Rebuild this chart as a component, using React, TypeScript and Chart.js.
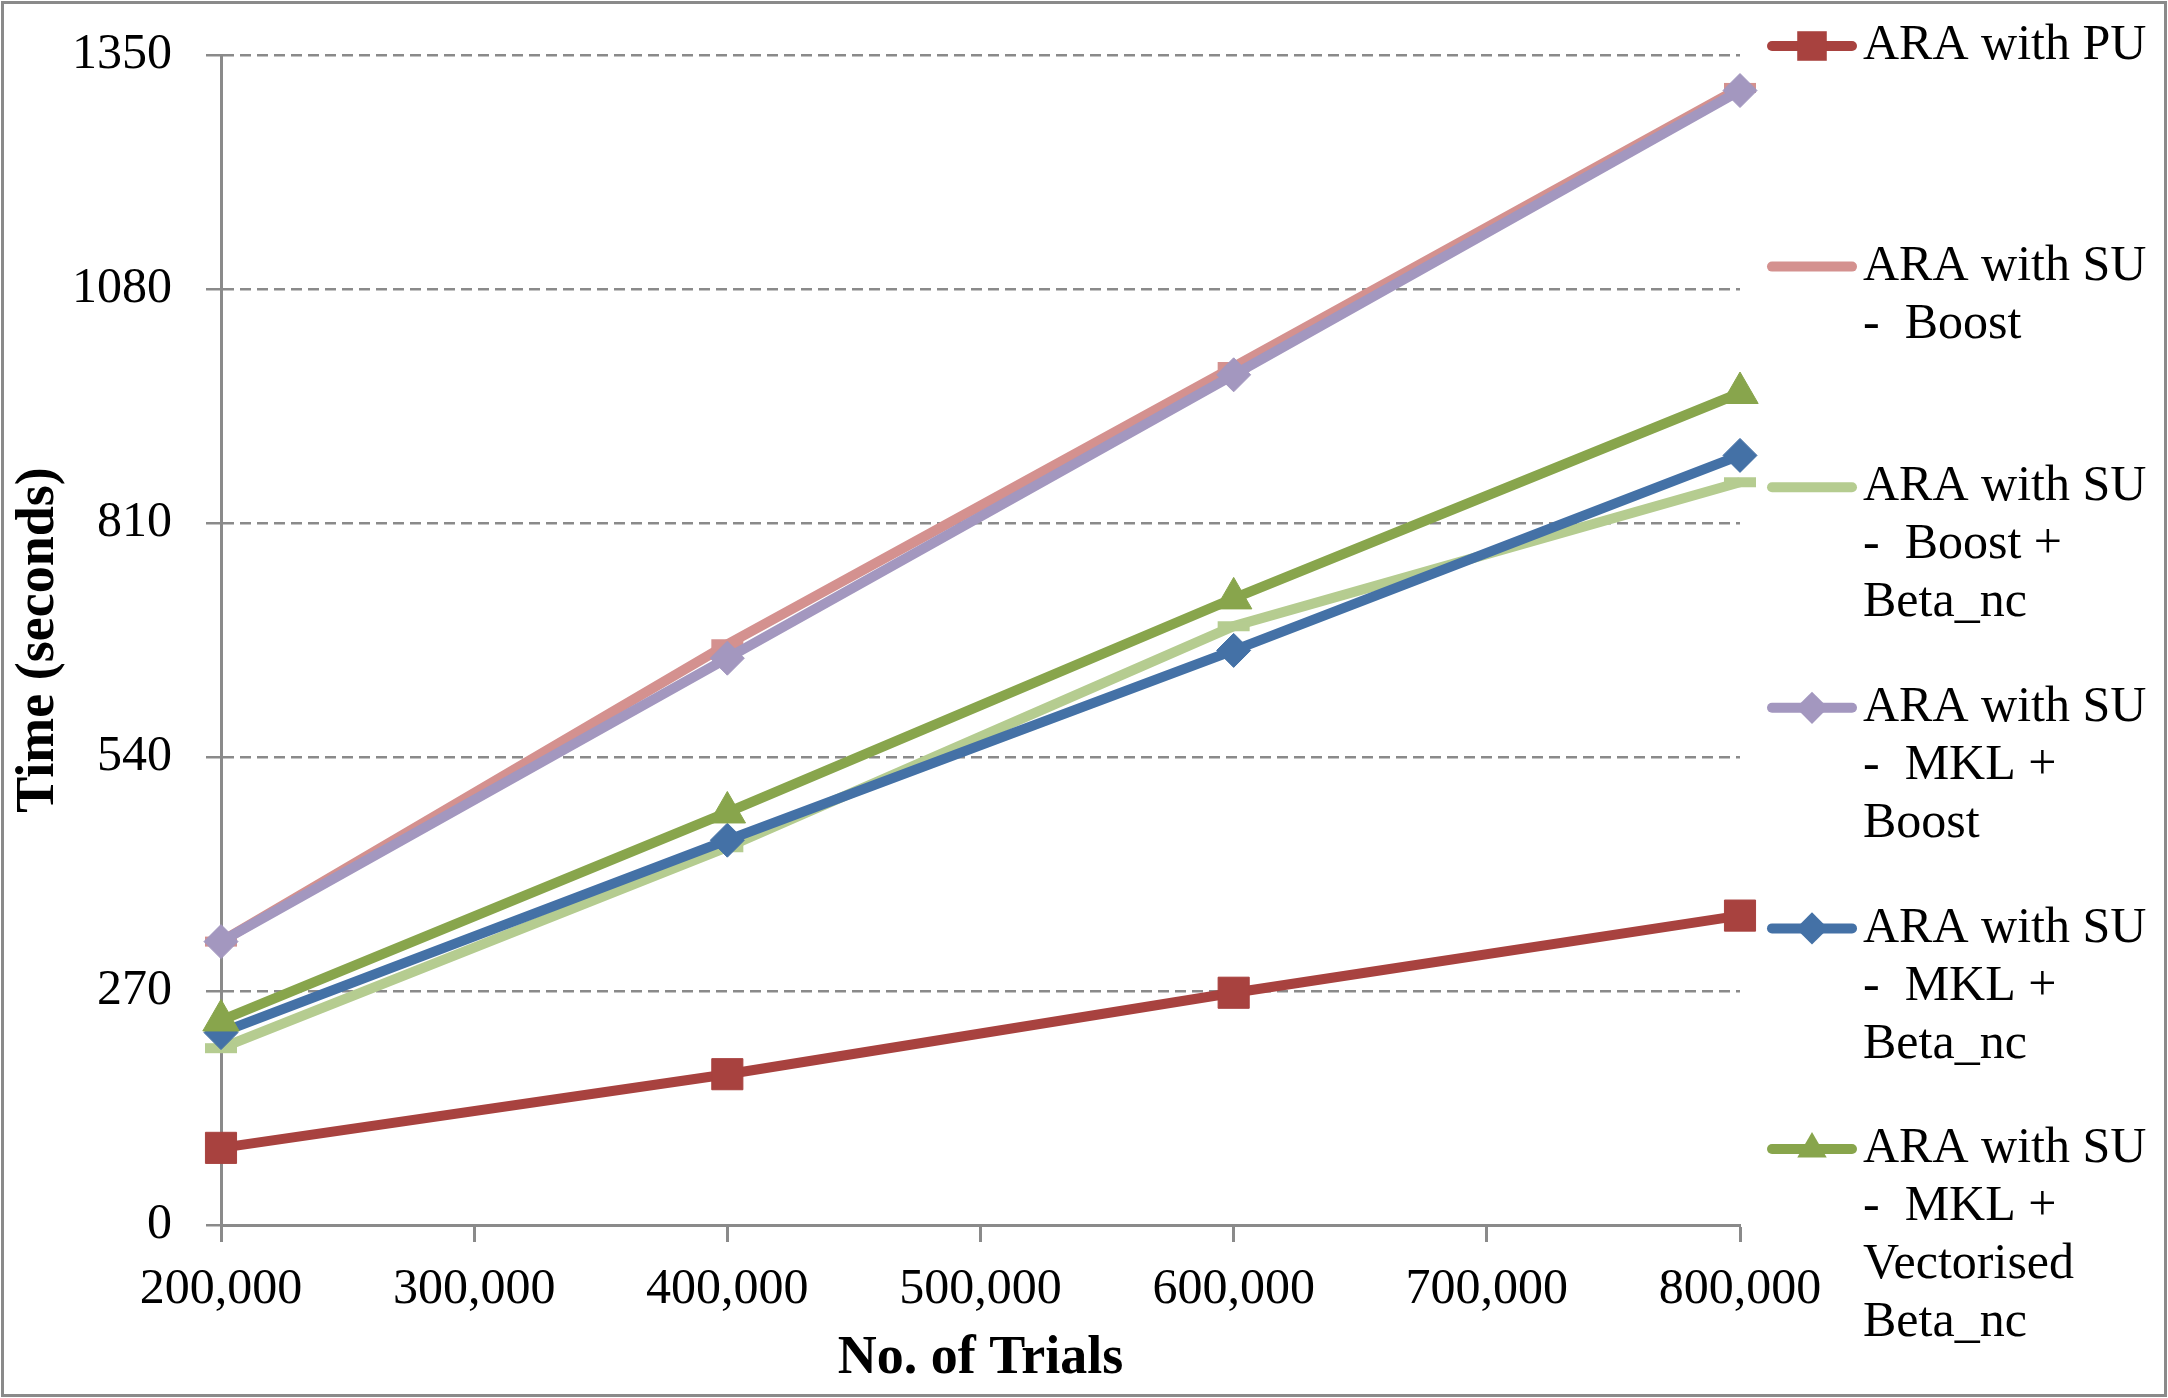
import { useEffect, useRef } from 'react'
import { Chart, registerables } from 'chart.js'

Chart.register(...registerables)

// data
const trials = [200000, 400000, 600000, 800000]
const seriesNames = [
  ['ARA with PU'],
  ['ARA with SU', '-  Boost'],
  ['ARA with SU', '-  Boost +', 'Beta_nc'],
  ['ARA with SU', '-  MKL +', 'Boost'],
  ['ARA with SU', '-  MKL +', 'Beta_nc'],
  ['ARA with SU', '-  MKL +', 'Vectorised', 'Beta_nc'],
]
const araPU = [89, 174, 268, 357]
const suBoost = [327, 670, 990, 1312]
const suBoostBeta = [204, 436, 691, 857]
const suMklBoost = [327, 654, 981, 1309]
const suMklBeta = [222, 444, 663, 888]
const suMklVecBeta = [236, 476, 723, 960]
const seriesValues = [araPU, suBoost, suBoostBeta, suMklBoost, suMklBeta, suMklVecBeta]

const yMin = 0
const yMax = 1350
const yStep = 270
const xMin = 200000
const xMax = 800000
const xStep = 100000

const colors = ['#A8423F', '#D4918F', '#B5CC90', '#A397BF', '#4471A6', '#88A54C']
const pointStyles = ['rect', 'line', 'line', 'rectRot', 'rectRot', 'triangle']
const pointRadii = [22, 16, 16, 17, 17, 21]

const W = 2168
const H = 1398
const FONT = "'Liberation Serif', 'Times New Roman', serif"
const GREY = '#8a8a8a'

const frame = {
  id: 'frame',
  beforeDraw(chart: Chart) {
    const { ctx } = chart
    ctx.save()
    ctx.fillStyle = '#fff'
    ctx.fillRect(0, 0, W, H)
    ctx.strokeStyle = GREY
    ctx.lineWidth = 3
    ctx.strokeRect(2.5, 2.5, W - 5, H - 5)
    ctx.restore()
  },
}

function marker(ctx: CanvasRenderingContext2D, style: string, x: number, y: number, r: number) {
  ctx.beginPath()
  if (style === 'rect') {
    const s = Math.SQRT1_2 * r
    ctx.rect(x - s, y - s, 2 * s, 2 * s)
  } else if (style === 'rectRot') {
    ctx.moveTo(x - r, y)
    ctx.lineTo(x, y - r)
    ctx.lineTo(x + r, y)
    ctx.lineTo(x, y + r)
    ctx.closePath()
  } else if (style === 'triangle') {
    ctx.moveTo(x, y - r)
    ctx.lineTo(x + r * Math.sin(Math.PI / 3), y + r / 2)
    ctx.lineTo(x - r * Math.sin(Math.PI / 3), y + r / 2)
    ctx.closePath()
  } else {
    return
  }
  ctx.fill()
}

const sideLegend = {
  id: 'sideLegend',
  afterDraw(chart: Chart) {
    const { ctx } = chart
    ctx.save()
    ctx.font = `50px ${FONT}`
    ctx.textBaseline = 'middle'
    ctx.textAlign = 'left'
    seriesNames.forEach((lines, i) => {
      const cy = 46 + i * 220.6
      ctx.strokeStyle = colors[i]
      ctx.fillStyle = colors[i]
      ctx.lineWidth = 10
      ctx.lineCap = 'round'
      ctx.beginPath()
      ctx.moveTo(1772, cy)
      ctx.lineTo(1852, cy)
      ctx.stroke()
      marker(ctx, pointStyles[i], 1812, cy, pointStyles[i] === 'triangle' ? 17 : pointRadii[i] * 0.95)
      ctx.fillStyle = '#000'
      lines.forEach((t, j) => ctx.fillText(t, 1863, cy + j * 58))
    })
    ctx.restore()
  },
}

export default function App() {
  const canvasRef = useRef<HTMLCanvasElement>(null)
  const chartRef = useRef<Chart | null>(null)

  useEffect(() => {
    if (!canvasRef.current) return
    if (chartRef.current) chartRef.current.destroy()

    const n = seriesNames.length
    const datasets = seriesNames.map((lines, i) => ({
      label: lines.join(' '),
      data: trials.map((t, k) => ({ x: t, y: seriesValues[i][k] })),
      borderColor: colors[i],
      backgroundColor: colors[i],
      borderWidth: 10,
      borderJoinStyle: 'round' as const,
      pointStyle: pointStyles[i] as any,
      pointRadius: pointRadii[i],
      pointBackgroundColor: colors[i],
      pointBorderColor: colors[i],
      pointBorderWidth: pointStyles[i] === 'line' ? 10 : 1,
      tension: 0,
      clip: false as const,
      order: n - 1 - i,
    }))

    chartRef.current = new Chart(canvasRef.current, {
      type: 'line',
      data: { datasets },
      plugins: [frame, sideLegend],
      options: {
        responsive: false,
        animation: false,
        devicePixelRatio: 1,
        layout: { padding: { left: 0, top: 55, right: W - 1740, bottom: 0 } },
        plugins: { legend: { display: false }, tooltip: { enabled: false } },
        scales: {
          x: {
            type: 'linear',
            min: xMin,
            max: xMax,
            afterFit: (s: any) => {
              s.height = H - 1225
              s.paddingLeft = 0
              s.paddingRight = 0
            },
            ticks: {
              stepSize: xStep,
              padding: 18,
              color: '#000',
              font: { family: FONT, size: 50 },
              maxRotation: 0,
              autoSkip: false,
              callback: (v) => Number(v).toLocaleString('en-US'),
            },
            grid: {
              drawOnChartArea: false,
              drawTicks: true,
              tickLength: 17,
              tickColor: GREY,
              tickWidth: 3,
            },
            border: { color: GREY, width: 3 },
            title: {
              display: true,
              text: 'No. of Trials',
              color: '#000',
              font: { family: FONT, size: 54, weight: 'bold' },
              padding: { top: 0, bottom: 7 },
            },
          },
          y: {
            min: yMin,
            max: yMax,
            afterFit: (s: any) => {
              s.width = 221
              s.paddingTop = 0
              s.paddingBottom = 0
            },
            ticks: {
              stepSize: yStep,
              padding: 34,
              color: '#000',
              font: { family: FONT, size: 50 },
              callback: (v) => String(v),
            },
            grid: {
              color: GREY,
              lineWidth: 2.5,
              tickLength: 15,
              tickColor: GREY,
              tickWidth: 2.5,
              tickBorderDash: [],
            },
            border: { color: GREY, width: 3, dash: [11, 6] },
            title: {
              display: true,
              text: 'Time (seconds)',
              color: '#000',
              font: { family: FONT, size: 54, weight: 'bold' },
              padding: { top: 7, bottom: 0 },
            },
          },
        },
      },
    })

    return () => { chartRef.current?.destroy() }
  }, [])

  return (
    <div style={{ position: 'fixed', left: 0, top: 0, width: W, height: H, background: '#fff' }}>
      <canvas ref={canvasRef} width={W} height={H} />
    </div>
  )
}
